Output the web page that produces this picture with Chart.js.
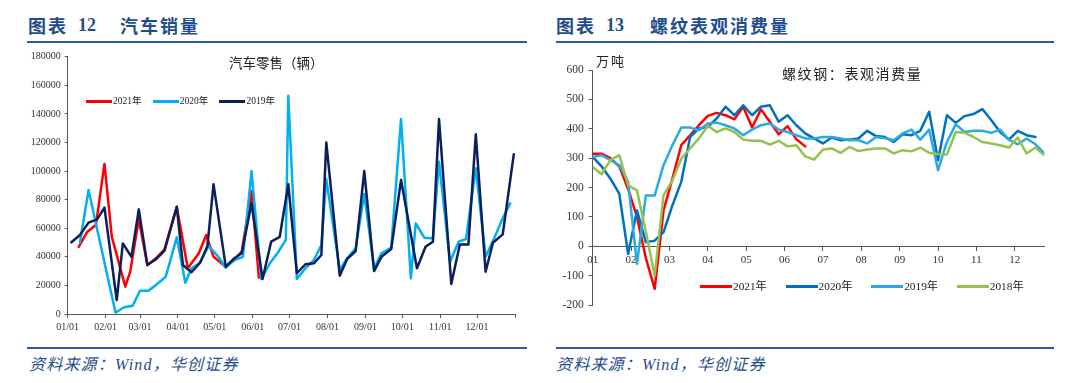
<!DOCTYPE html>
<html><head><meta charset="utf-8">
<script src="https://cdn.jsdelivr.net/npm/chart.js@4/dist/chart.umd.min.js"></script>
<style>
html,body{margin:0;padding:0;background:#fff;}
body{width:1080px;height:383px;position:relative;overflow:hidden;font-family:'Liberation Serif','Noto Sans CJK SC',serif;}
.abs{position:absolute;white-space:nowrap;line-height:1;}
.hdr{color:#1F4E8C;font-weight:bold;font-size:18px;top:16px;}
.cjk{font-family:'Noto Sans CJK SC',sans-serif;letter-spacing:2px;}
.num{font-family:'Liberation Serif',serif;}
.rule{position:absolute;height:2px;background:#2C5A9E;}
.src{color:#1F4E8C;font-style:italic;font-size:16px;top:357px;letter-spacing:1.2px;}
canvas{position:absolute;}
.legend{position:absolute;display:flex;align-items:center;line-height:1;white-space:nowrap;}
.legend .item{display:flex;align-items:center;}
.legend .sw{display:inline-block;}
.legend .tx{color:#222;margin-left:1px;}
</style></head>
<body>
<div class="abs hdr cjk" style="left:28px;">图表</div>
<div class="abs hdr num" style="left:78px;">12</div>
<div class="abs hdr cjk" style="left:120px;">汽车销量</div>
<div class="abs hdr cjk" style="left:556px;">图表</div>
<div class="abs hdr num" style="left:606px;">13</div>
<div class="abs hdr cjk" style="left:650px;">螺纹表观消费量</div>
<div class="rule" style="left:27px;top:41px;width:500px;"></div>
<div class="rule" style="left:556px;top:41px;width:498px;"></div>
<div class="rule" style="left:27px;top:347px;width:500px;"></div>
<div class="rule" style="left:556px;top:347px;width:498px;"></div>
<div class="abs src" style="left:29px;">资料来源：Wind，华创证券</div>
<div class="abs src" style="left:556px;">资料来源：Wind，华创证券</div>

<canvas id="c1" width="510" height="295" style="left:20px;top:45px;"></canvas>
<canvas id="c2" width="505" height="295" style="left:550px;top:45px;"></canvas>

<div class="abs" style="left:229px;top:56px;font-family:'Noto Sans CJK SC',sans-serif;font-size:13.5px;color:#222;">汽车零售（辆）</div>
<div class="abs" style="left:596px;top:53.5px;font-family:'Noto Sans CJK SC',sans-serif;font-size:13px;letter-spacing:2px;color:#222;">万吨</div>
<div class="abs" style="left:782px;top:66px;font-family:'Noto Sans CJK SC',sans-serif;font-size:14px;letter-spacing:1.6px;color:#222;">螺纹钢：表观消费量</div>
<div id="lg1" class="legend" style="left:86px;top:96.7px;height:10px;"></div>
<div id="lg2" class="legend" style="left:700px;top:280.7px;height:12px;"></div>

<script>
// ---------- Chart 12: car retail (weekly, by date) ----------
const carTickLabels = ['01/01','02/01','03/01','04/01','05/01','06/01','07/01','08/01','09/01','10/01','11/01','12/01',''];
const carSeriesNames = ['2021年','2020年','2019年'];
const carColors = ['#FF0000','#00B0F0','#0A1F5C'];

const dates2021 = ['01-10','01-17','01-24','01-31','02-06','02-17','02-21','02-28','03-07','03-14','03-21','03-31','04-09','04-18','04-24','04-30','05-10','05-17','05-23','05-31','06-06'];
const sales2021 = [47000,57600,62200,105000,54000,19100,29600,66200,34300,39000,45200,75000,32000,42500,55300,40000,33000,38000,43600,86000,25400];

const dates2020 = ['01-11','01-18','02-09','02-16','02-23','03-01','03-08','03-15','03-22','03-31','04-07','04-12','04-19','04-26','05-04','05-10','05-17','05-24','05-31','06-08','06-15','06-22','06-28','06-30','07-07','07-14','07-21','07-27','07-31','08-11','08-17','08-24','08-31','09-08','09-14','09-22','09-30','10-08','10-12','10-19','10-26','10-31','11-09','11-16','11-22','11-30','12-08','12-15','12-22','12-28'];
const sales2020 = [50000,86700,1000,4700,5800,16300,16300,21000,26100,53600,21900,32000,35900,47600,40000,32400,37800,40000,100000,24500,35500,43600,51800,152700,24500,32000,37800,48300,94400,30800,39000,46000,84000,32000,42500,46400,136400,25000,63400,53400,53000,106500,36600,50600,52500,102000,40000,53000,67000,77400];

const dates2019 = ['01-04','01-11','01-18','01-25','01-31','02-10','02-15','02-22','02-28','03-07','03-14','03-21','03-31','04-05','04-12','04-19','04-25','04-30','05-10','05-17','05-23','05-31','06-09','06-16','06-23','06-30','07-07','07-14','07-21','07-27','07-31','08-11','08-17','08-24','08-31','09-08','09-14','09-22','09-30','10-13','10-20','10-26','10-31','11-10','11-17','11-24','11-30','12-08','12-14','12-22','12-31'];
const sales2019 = [50200,55300,63900,66200,74400,9800,49400,40000,73200,34300,38300,44300,75000,34300,29200,35900,47600,90700,33100,39000,42500,77400,24500,50600,54000,90700,28500,34800,35500,41300,120000,26800,38500,44100,100000,30000,40000,45500,93700,32000,47000,50600,136400,21000,48700,48700,125700,29600,49900,55700,111700];

// ---------- Chart 13: rebar apparent consumption (weekly) ----------
const rebarMonthLabels = ['01','02','03','04','05','06','07','08','09','10','11','12'];
const rebarSeriesNames = ['2021年','2020年','2019年','2018年'];
const rebarColors = ['#FF0000','#0070C0','#2AAAE0','#93C24E'];
const rebar2021 = [315,315,300,272,195,100,-40,-145,122,230,344,378,412,444,454,446,432,475,404,466,424,381,409,364,340];
const rebar2020 = [304,272,230,179,-26,122,14,19,48,139,219,372,401,406,435,475,446,480,446,475,480,424,446,412,384,367,350,370,361,363,367,393,375,372,355,381,378,393,458,293,446,420,443,450,467,430,389,363,393,378,372];
const rebar2019 = [304,310,293,276,219,-60,173,173,276,344,404,404,395,418,421,412,401,378,397,412,418,397,389,378,367,367,372,372,367,361,361,350,372,368,361,384,397,363,397,259,355,415,389,393,393,386,397,363,347,367,347,316];
const rebar2018 = [270,245,293,310,207,190,50,-100,173,224,298,333,367,410,389,401,389,363,359,359,346,359,340,344,306,295,329,333,318,338,324,329,333,333,316,327,323,336,318,313,312,389,386,372,355,350,344,336,370,316,336,310];

// ---------- helpers ----------
const cumDays = [0,31,59,90,120,151,181,212,243,273,304,334,365];
function dayOfYear(md){ const p = md.split('-').map(Number); return cumDays[p[0]-1] + p[1] - 1; }
const FONT = "'Liberation Serif','Noto Sans CJK SC',serif";
const AX = '#555555';

function axisBase(size, tickLen, pad){
  return {
    grid:{drawOnChartArea:false, drawTicks:true, tickLength:tickLen, color:AX, lineWidth:1},
    border:{display:true, color:AX, width:1},
    ticks:{color:'#333', font:{size:size, family:FONT}, padding:pad, autoSkip:false, maxRotation:0, minRotation:0}
  };
}
function lineDs(label, color, data, order){
  return {label, data, borderColor:color, backgroundColor:color, borderWidth:2.5, pointRadius:0, pointHoverRadius:0,
    tension:0, fill:false, borderJoinStyle:'round', borderCapStyle:'round', order};
}
function buildLegend(id, names, colors, itemW, lineW, fontSize){
  const el = document.getElementById(id);
  names.forEach((n,i)=>{
    const it = document.createElement('div'); it.className='item'; it.style.width = itemW+'px';
    const sw = document.createElement('span'); sw.className='sw';
    sw.style.width = lineW+'px'; sw.style.height='3px'; sw.style.background = colors[i];
    const tx = document.createElement('span'); tx.className='tx'; tx.textContent = n;
    tx.style.fontSize = fontSize+'px'; tx.style.fontFamily = FONT;
    it.appendChild(sw); it.appendChild(tx); el.appendChild(it);
  });
}

// ---------- chart 1 ----------
const carDates = [dates2021, dates2020, dates2019];
const carValues = [sales2021, sales2020, sales2019];
const carDatasets = carSeriesNames.map((n,i)=> lineDs(n, carColors[i],
  carDates[i].map((d,k)=>({x:dayOfYear(d), y:carValues[i][k]})), carSeriesNames.length-1-i));

const x1 = axisBase(10, 4, 3);
Object.assign(x1, {type:'linear', min:0, max:365,
  afterBuildTicks: s => { s.ticks = cumDays.map(v=>({value:v})); },
  afterFit: s => { s.height = 26; }});
x1.ticks.callback = (v,i) => carTickLabels[i];
const y1 = axisBase(10, 3, 4);
Object.assign(y1, {min:0, max:180000, afterFit: s => { s.width = 47.7; }});
y1.ticks.stepSize = 20000;
y1.ticks.callback = v => String(v);

new Chart(document.getElementById('c1'), {
  type:'line',
  data:{datasets:carDatasets},
  options:{responsive:false, devicePixelRatio:1, animation:false, events:[],
    layout:{padding:{top:11.7, right:15, bottom:0, left:0}},
    plugins:{legend:{display:false}, tooltip:{enabled:false}, title:{display:false}},
    scales:{x:x1, y:y1}}
});

// ---------- chart 2 ----------
const weeksPerYear = 52;
const rebarValues = [rebar2021, rebar2020, rebar2019, rebar2018];
const rebarDatasets = rebarSeriesNames.map((n,i)=> lineDs(n, rebarColors[i],
  rebarValues[i].map((v,k)=>({x:k, y:v})), rebarSeriesNames.length-1-i));
const rebarTickPos = rebarMonthLabels.map((_,m)=> m*weeksPerYear/12);

const x2 = axisBase(11, 4, 3);
Object.assign(x2, {type:'linear', position:{y:0}, min:0, max:weeksPerYear-1,
  afterBuildTicks: s => { s.ticks = rebarTickPos.map(v=>({value:v})); }});
x2.ticks.callback = (v,i) => rebarMonthLabels[i];
const y2 = axisBase(11.5, 4, 5);
Object.assign(y2, {min:-200, max:600, afterFit: s => { s.width = 42.7; }});
y2.ticks.stepSize = 100;
y2.ticks.callback = v => String(v);

new Chart(document.getElementById('c2'), {
  type:'line',
  data:{datasets:rebarDatasets},
  options:{responsive:false, devicePixelRatio:1, animation:false, events:[],
    layout:{padding:{top:25, right:10.7, bottom:35, left:0}},
    plugins:{legend:{display:false}, tooltip:{enabled:false}, title:{display:false}},
    scales:{x:x2, y:y2}}
});

buildLegend('lg1', carSeriesNames, carColors, 66.7, 26, 9.5);
buildLegend('lg2', rebarSeriesNames, rebarColors, 85.6, 32, 11.3);
</script>
</body></html>
